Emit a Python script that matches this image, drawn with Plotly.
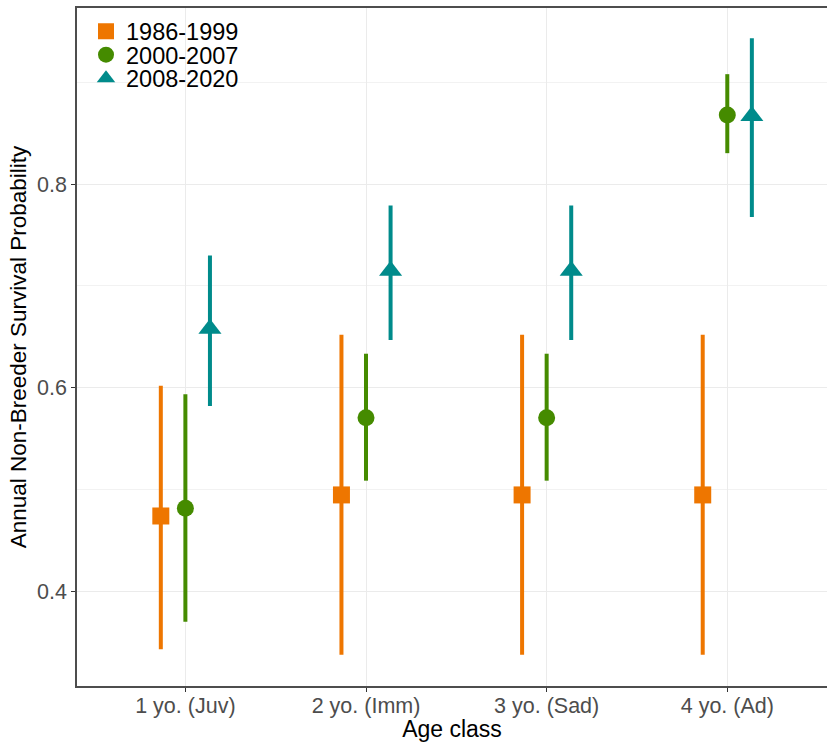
import plotly.graph_objects as go

# Age classes on the x axis
age_classes = ["1 yo. (Juv)", "2 yo. (Imm)", "3 yo. (Sad)", "4 yo. (Ad)"]

# Annual non-breeder survival estimates with 95% credible bounds, per period
periods = ["1986-1999", "2000-2007", "2008-2020"]

est_1986 = [0.474, 0.4947, 0.4947, 0.4947]
low_1986 = [0.343, 0.3376, 0.3376, 0.3376]
high_1986 = [0.602, 0.652, 0.652, 0.652]

est_2000 = [0.4816, 0.5705, 0.5705, 0.868]
low_2000 = [0.370, 0.5087, 0.5087, 0.8304]
high_2000 = [0.5935, 0.6334, 0.6334, 0.908]

est_2008 = [0.658, 0.7148, 0.7148, 0.8668]
low_2008 = [0.582, 0.6468, 0.6468, 0.7676]
high_2008 = [0.730, 0.779, 0.779, 0.9433]

series = [
    (periods[0], est_1986, low_1986, high_1986, "#EE7600", "square", 17),
    (periods[1], est_2000, low_2000, high_2000, "#458B00", "circle", 17),
    (periods[2], est_2008, low_2008, high_2008, "#008B8B", "triangle-up", 20),
]

dodge = [-0.136, 0.0, 0.136]
legend_ids = ["legend", "legend2", "legend3"]
legend_tops = [0.998, 0.9633, 0.9286]
FONT = "Liberation Sans, Arial, sans-serif"

fig = go.Figure()
for (name, est, lo, hi, color, symbol, size), off, lid in zip(series, dodge, legend_ids):
    xs = [i + 1 + off for i in range(len(age_classes))]
    fig.add_trace(go.Scatter(
        x=xs, y=est, mode="markers", name=name, legend=lid,
        marker=dict(color=color, symbol=symbol, size=size, line=dict(width=0)),
        error_y=dict(type="data", symmetric=False,
                     array=[h - e for h, e in zip(hi, est)],
                     arrayminus=[e - l for e, l in zip(est, lo)],
                     color=color, thickness=4, width=0),
    ))

legend_style = dict(x=0.012, xanchor="left", yanchor="top",
                    bgcolor="rgba(0,0,0,0)", font=dict(size=23.5, color="black"),
                    itemsizing="trace")

fig.update_layout(
    width=827, height=742,
    margin=dict(l=77, r=0, t=8, b=56),
    paper_bgcolor="white", plot_bgcolor="white",
    font=dict(family=FONT, color="black"),
    showlegend=True,
    legend=dict(y=legend_tops[0], **legend_style),
    legend2=dict(y=legend_tops[1], **legend_style),
    legend3=dict(y=legend_tops[2], **legend_style),
    xaxis=dict(
        range=[0.4, 4.552], tickvals=[1, 2, 3, 4], ticktext=age_classes,
        showgrid=True, gridcolor="#EBEBEB", gridwidth=1.2, zeroline=False,
        ticks="outside", ticklen=4, tickcolor="#333333", tickwidth=1,
        tickfont=dict(size=21.5, color="#4D4D4D"), ticklabelstandoff=-5,
        showline=True, linecolor="#4D4D4D", linewidth=1.5, mirror=True,
        title=dict(text="Age class", font=dict(size=23, color="black"), standoff=3),
    ),
    yaxis=dict(
        range=[0.307, 0.973], tickvals=[0.4, 0.6, 0.8], ticktext=["0.4", "0.6", "0.8"],
        showgrid=True, gridcolor="#EBEBEB", gridwidth=1.2, zeroline=False,
        minor=dict(tickvals=[0.3, 0.5, 0.7, 0.9], showgrid=True,
                   gridcolor="#F2F2F2", gridwidth=0.8),
        ticks="outside", ticklen=4, tickcolor="#333333", tickwidth=1,
        tickfont=dict(size=21.5, color="#4D4D4D"),
        showline=True, linecolor="#4D4D4D", linewidth=1.5, mirror=False,
        title=dict(text="Annual Non-Breeder Survival Probability",
                   font=dict(size=22.5, color="black"), standoff=4),
    ),
)

fig.write_html("out.html")
